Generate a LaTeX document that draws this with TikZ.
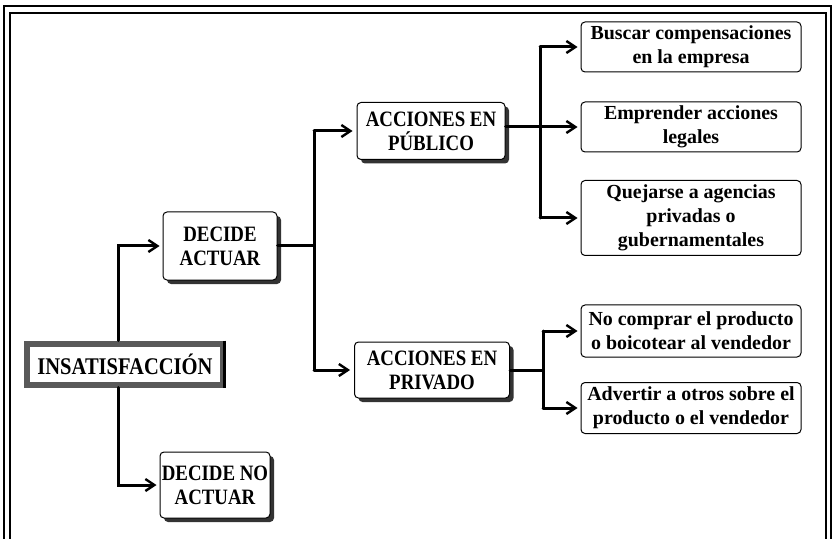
\documentclass[tikz,border=0pt]{standalone}
\usepackage{fontspec}
\setmainfont{Liberation Serif}
\newfontfamily\narrowbf{Liberation Serif}[FakeStretch=0.86]
\usetikzlibrary{arrows.meta,shadows}
\tikzset{
  conn/.style={
    line width=3bp,
    line cap=round,
    line join=miter
  },
  conn-arrow/.style={
    conn,
    -{Straight Barb[length=9bp,width=12bp,line width=2.4bp]}
  },
  step-box/.style={
    draw=black,
    line width=1bp,
    rounded corners=4bp,
    fill=white,
    align=center,
    inner sep=0pt,
    font=\narrowbf\bfseries\fontsize{22}{24}\selectfont,
    drop shadow={shadow xshift=4bp, shadow yshift=-4bp, fill=black!80, opacity=1}
  },
  leaf-box/.style={
    draw=black,
    line width=1bp,
    rounded corners=4bp,
    fill=white,
    align=center,
    inner sep=0pt,
    minimum width=220bp,
    font=\bfseries\fontsize{20}{24}\selectfont
  },
  root-box/.style={
    draw=black!65,
    line width=6bp,
    fill=white,
    align=center,
    inner sep=0pt,
    font=\narrowbf\bfseries\fontsize{24}{24}\selectfont
  }
}

\begin{document}
\begin{tikzpicture}[x=1bp,y=-1bp]
  \useasboundingbox (0,0) rectangle (833,539);
  % Frame
  \begin{scope}
    \clip (0,0) rectangle (833,539);
    \draw[line width=2.5bp] (4,6) rectangle (831,560);
    \draw[line width=1.5bp] (10,13) rectangle (826,560);
  \end{scope}
  % Root
  \node[root-box, minimum width=196bp, minimum height=41bp] (insat) at (125,364) {INSATISFACCIÓN};
  \draw[line width=3bp] ([xshift=-1.5bp]insat.north east) -- ([xshift=-1.5bp]insat.south east);
  % First level
  \node[step-box, minimum width=114bp, minimum height=68bp] (dact) at (220,246) {DECIDE\\ACTUAR};
  \node[step-box, minimum width=110bp, minimum height=66bp] (dnoact) at (215,485) {DECIDE NO\\ACTUAR};
  % Second level
  \node[step-box, minimum width=148bp, minimum height=57bp] (pub) at (431,131) {ACCIONES EN\\PÚBLICO};
  \node[step-box, minimum width=155bp, minimum height=56bp] (priv) at (432,370) {ACCIONES EN\\PRIVADO};
  % Leaves
  \node[leaf-box, minimum height=50bp] (buscar) at (691,47) {Buscar compensaciones\\en la empresa};
  \node[leaf-box, minimum height=50bp] (legal) at (691,127) {Emprender acciones\\legales};
  \node[leaf-box, minimum height=75bp] (quejar) at (691,218) {Quejarse a agencias\\privadas o\\gubernamentales};
  \node[leaf-box, minimum height=52bp] (nocomp) at (691,331) {No comprar el producto\\o boicotear al vendedor};
  \node[leaf-box, minimum height=51bp] (advert) at (691,408) {Advertir a otros sobre el\\producto o el vendedor};
  % Root branches
  \draw[conn-arrow] ([xshift=-7bp]insat.north) |- ([xshift=-3bp]dact.west);
  \draw[conn-arrow] ([xshift=-7bp]insat.south) |- ([xshift=-3bp]dnoact.west);
  % Decide actuar bus
  \coordinate (bus1) at (314,246);
  \draw[conn] (dact.east) -- (bus1);
  \draw[conn] (bus1 |- pub.west) -- (bus1 |- priv.west);
  \draw[conn-arrow] (bus1 |- pub.west) -- ([xshift=-4bp]pub.west);
  \draw[conn-arrow] (bus1 |- priv.west) -- ([xshift=-4bp]priv.west);
  % Publico bus
  \coordinate (bus2) at (540,127);
  \draw[conn] (bus2 |- buscar.west) -- (bus2 |- quejar.west);
  \draw[conn-arrow] (pub.east |- legal.west) -- ([xshift=-3bp]legal.west);
  \draw[conn-arrow] (bus2 |- buscar.west) -- ([xshift=-3bp]buscar.west);
  \draw[conn-arrow] (bus2 |- quejar.west) -- ([xshift=-3bp]quejar.west);
  % Privado bus
  \coordinate (bus3) at (543,370);
  \draw[conn] (priv.east) -- (bus3);
  \draw[conn] (bus3 |- nocomp.west) -- (bus3 |- advert.west);
  \draw[conn-arrow] (bus3 |- nocomp.west) -- ([xshift=-3bp]nocomp.west);
  \draw[conn-arrow] (bus3 |- advert.west) -- ([xshift=-3bp]advert.west);
\end{tikzpicture}
\end{document}
